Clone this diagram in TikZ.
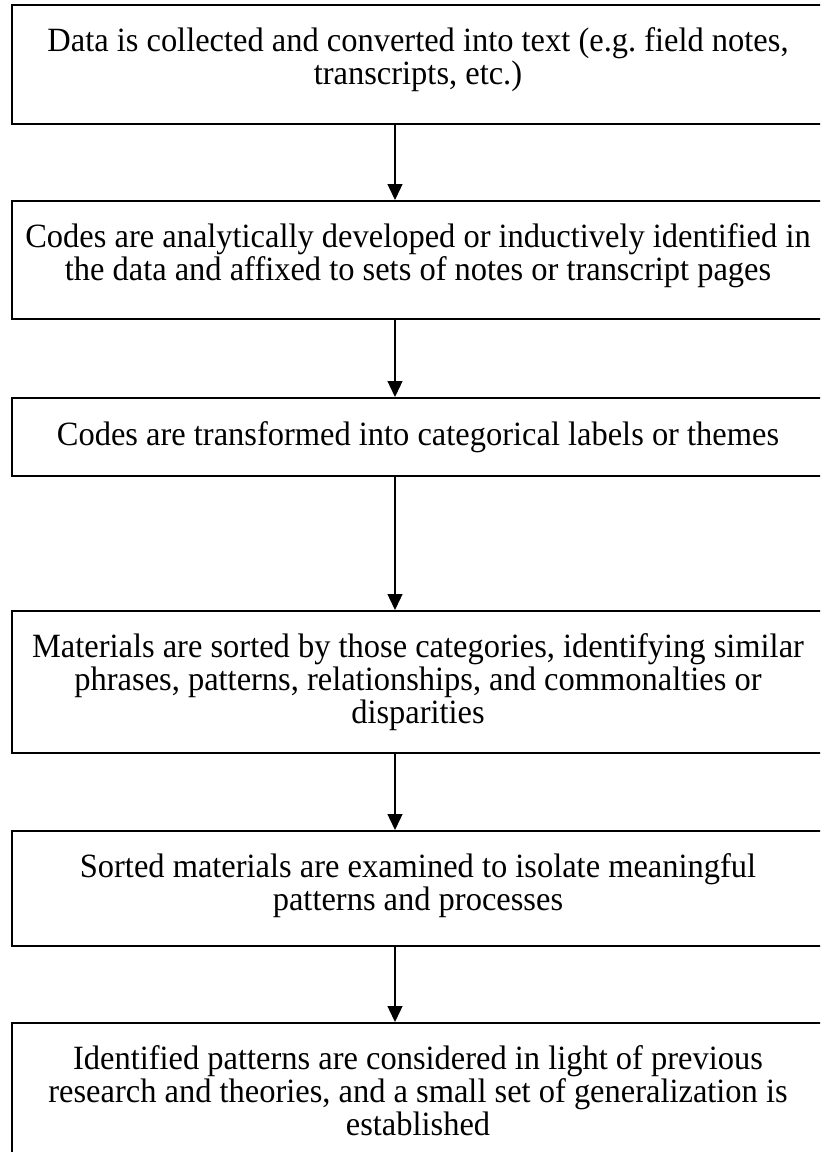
\documentclass[tikz,border=0pt]{standalone}
\usepackage{fontspec}
\setmainfont{Liberation Serif}[FakeStretch=0.955]
\usetikzlibrary{arrows.meta}
\begin{document}
\frenchspacing
\begin{tikzpicture}[x=1pt,y=-1pt,
  stepbox/.style={draw=black, line width=1.5pt, rectangle, inner sep=0pt, anchor=north west, minimum width=815pt},
  steptext/.style={anchor=north, inner sep=0pt, align=center, font=\fontsize{34}{33}\selectfont},
  flow/.style={line width=1.3pt, -{Triangle[width=15pt,length=16pt]}}]
\useasboundingbox (0,0) rectangle (820,1152);
\clip (0,0) rectangle (820,1152);
\fill[white] (0,0) rectangle (820,1152);
\coordinate (ax) at (395,0);
% boxes
\node[stepbox, minimum height=119pt] (b1) at (11,4) {};
\node[stepbox, minimum height=118pt] (b2) at (11,200) {};
\node[stepbox, minimum height=78pt] (b3) at (11,397) {};
\node[stepbox, minimum height=142pt] (b4) at (11,610) {};
\node[stepbox, minimum height=115pt] (b5) at (11,830) {};
\node[stepbox, minimum height=160pt] (b6) at (11,1022) {};
% texts
\node[steptext] (t1) at (418,27) {Data is collected and converted into text (e.g. field notes,\\ transcripts, etc.)};
\node[steptext] (t2) at (418,223) {Codes are analytically developed or inductively identified in\\ the data and affixed to sets of notes or transcript pages};
\node[steptext] (t3) at (418,421) {Codes are transformed into categorical labels or themes};
\node[steptext] (t4) at (418,633) {Materials are sorted by those categories, identifying similar\\ phrases, patterns, relationships, and commonalties or\\ disparities};
\node[steptext] (t5) at (418,853) {Sorted materials are examined to isolate meaningful\\ patterns and processes};
\node[steptext] (t6) at (418,1045) {Identified patterns are considered in light of previous\\ research and theories, and a small set of generalization is\\ established};
% connectors
\draw[flow] (b1.south -| ax) -- (b2.north -| ax);
\draw[flow] (b2.south -| ax) -- (b3.north -| ax);
\draw[flow] (b3.south -| ax) -- (b4.north -| ax);
\draw[flow] (b4.south -| ax) -- (b5.north -| ax);
\draw[flow] (b5.south -| ax) -- (b6.north -| ax);
\end{tikzpicture}
\end{document}
